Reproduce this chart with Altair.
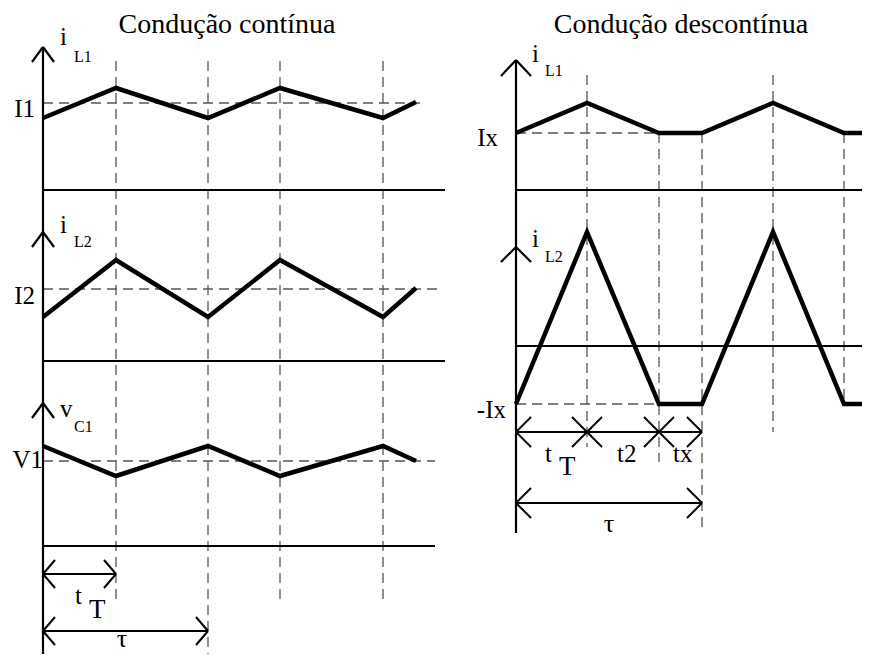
import altair as alt
import pandas as pd

# ---------------- values ----------------
# Condução contínua (left): instants measured from the vertical axis,
# levels measured above the zero line of each trace
cc_time = [0, 73, 165, 237, 340, 373]
cc_iL1 = [72, 102, 72, 102, 72, 88]
cc_iL2 = [44, 101, 44, 101, 44, 73]
cc_vC1 = [100, 70, 100, 70, 100, 85]
cc_level_names = ["I1", "I2", "V1"]
cc_levels = [87, 72, 85]
cc_tT, cc_tau = 73, 165

# Condução descontínua (right)
cd_time = [0, 71, 143, 186, 257, 328, 354]
cd_iL1 = [57, 87, 57, 57, 87, 57, 57]
cd_iL2 = [-58, 114, -58, -58, 114, -58, -58]
cd_Ix = 57
cd_tT, cd_t2, cd_tau = 71, 143, 186

# ---------------- layout ----------------
W, H = 854, 646


def P(y_img):
    return 662 - y_img


L_X0 = 43
L_BASE = [P(190), P(361), P(546)]
R_X0 = 516
R_BASE = [P(190), P(346)]

# waveforms
wave_rows = []
for name, vals in [("cc_iL1", cc_iL1), ("cc_iL2", cc_iL2), ("cc_vC1", cc_vC1)]:
    base = L_BASE[["cc_iL1", "cc_iL2", "cc_vC1"].index(name)]
    for i, (t, v) in enumerate(zip(cc_time, vals)):
        wave_rows.append({"s": name, "o": i, "x": L_X0 + t, "y": base + v})
for name, vals, base in [("cd_iL1", cd_iL1, R_BASE[0]), ("cd_iL2", cd_iL2, R_BASE[1])]:
    for i, (t, v) in enumerate(zip(cd_time, vals)):
        wave_rows.append({"s": name, "o": i, "x": R_X0 + t, "y": base + v})
waves = pd.DataFrame(wave_rows)

solid, thin, dashed = [], [], []


def seg(lst, x, y, x2, y2):
    lst.append({"x": x, "y": y, "x2": x2, "y2": y2})


# axes (vertical) and zero lines
seg(solid, L_X0, P(47), L_X0, P(662))
seg(solid, R_X0, P(60), R_X0, P(533))
for base, end in zip(L_BASE, [445, 445, 435]):
    seg(solid, L_X0, base, end, base)
for base in R_BASE:
    seg(solid, R_X0, base, 870, base)


def up_arrow(x, tip, dx, dy):
    seg(solid, x, tip, x - dx, tip - dy)
    seg(solid, x, tip, x + dx, tip - dy)


up_arrow(L_X0, P(47), 11, 15)
up_arrow(L_X0, P(232), 11, 15)
up_arrow(L_X0, P(403), 11, 15)
up_arrow(R_X0, P(60), 15, 16)
up_arrow(R_X0, P(247), 15, 15)


def head_left(x, y, d, h):
    seg(thin, x, y, x + d, y + h)
    seg(thin, x, y, x + d, y - h)


def head_right(x, y, d, h):
    seg(thin, x, y, x - d, y + h)
    seg(thin, x, y, x - d, y - h)


def cross(x, y, d):
    seg(thin, x - d, y + d, x + d, y - d)
    seg(thin, x - d, y - d, x + d, y + d)


# dimension arrows, left
for t, yi in [(cc_tT, 574), (cc_tau, 631)]:
    y = P(yi)
    seg(thin, L_X0, y, L_X0 + t, y)
    head_left(L_X0, y, 12, 14)
    head_right(L_X0 + t, y, 12, 14)

# dimension arrows, right
y = P(432)
seg(thin, R_X0, y, R_X0 + cd_tau, y)
head_left(R_X0, y, 15, 15)
cross(R_X0 + cd_tT, y, 15)
cross(R_X0 + cd_t2, y, 15)
head_right(R_X0 + cd_tau, y, 15, 15)
y = P(503)
seg(thin, R_X0, y, R_X0 + cd_tau, y)
head_left(R_X0, y, 15, 15)
head_right(R_X0 + cd_tau, y, 15, 15)

# dashed guides, left
for t in cc_time[1:5]:
    bottom = 660 if t == cc_tau else 603
    seg(dashed, L_X0 + t, P(61), L_X0 + t, P(bottom))
for base, lev, end in zip(L_BASE, cc_levels, [420, 440, 435]):
    seg(dashed, L_X0, base + lev, end, base + lev)

# dashed guides, right
for t, top, bottom in zip(cd_time[1:6], [75, 133, 133, 75, 133], [447, 462, 533, 432, 404]):
    seg(dashed, R_X0 + t, P(top), R_X0 + t, P(bottom))
seg(dashed, R_X0, R_BASE[0] + cd_Ix, R_X0 + cd_t2, R_BASE[0] + cd_Ix)
seg(dashed, R_X0, R_BASE[1] - cd_Ix - 1, R_X0 + cd_t2, R_BASE[1] - cd_Ix - 1)

# texts
left_txt = [
    ("i", 60, 45, 25), ("L1", 74, 62, 16),
    ("i", 60, 233, 25), ("L2", 74, 247, 16),
    ("v", 60, 417, 25), ("C1", 74, 432, 16),
    ("t", 75, 604, 25), ("T", 89, 618, 27),
    ("i", 532, 62, 25), ("L1", 545, 76, 16),
    ("i", 532, 247, 25), ("L2", 545, 262, 16),
    ("t", 545, 462, 25), ("T", 559, 475, 27),
    ("t2", 617, 462, 25), ("tx", 673, 462, 25),
]
right_txt = [
    ("I1", 35, 117, 25), ("I2", 35, 304, 25), ("V1", 43, 468, 25),
    ("Ix", 498, 146, 25), ("-Ix", 506, 418, 25),
]
center_txt = [
    ("Condução contínua", 227, 33, 28), ("Condução descontínua", 681, 33, 28),
    ("τ", 122, 647, 26), ("τ", 609, 532, 26),
]


def tdf(lst):
    return pd.DataFrame([{"t": a, "x": b, "y": P(c), "fs": d} for a, b, c, d in lst])


xs = alt.Scale(domain=[8, 8 + W], nice=False, zero=False)
ys = alt.Scale(domain=[8, 8 + H], nice=False, zero=False)
X = alt.X("x:Q", scale=xs, axis=None)
Y = alt.Y("y:Q", scale=ys, axis=None)


def rules(lst, **kw):
    return alt.Chart(pd.DataFrame(lst)).mark_rule(**kw).encode(
        x=X, y=Y, x2="x2:Q", y2="y2:Q")


def texts(lst, align):
    return alt.Chart(tdf(lst)).mark_text(
        align=align, baseline="alphabetic", font="Liberation Serif", color="black"
    ).encode(x=X, y=Y, text="t:N", size=alt.Size("fs:Q", scale=None))


layers = [
    rules(dashed, color="#555555", strokeWidth=1.3, strokeDash=[10, 6]),
    rules(solid, color="black", strokeWidth=2.2),
    rules(thin, color="black", strokeWidth=2.0),
    alt.Chart(waves).mark_line(color="black", strokeWidth=4.5, strokeJoin="miter").encode(
        x=X, y=Y, detail="s:N", order="o:Q"),
    texts(left_txt, "left"),
    texts(right_txt, "right"),
    texts(center_txt, "center"),
]

chart = alt.layer(*layers).properties(
    width=W, height=H, padding=0, autosize=alt.AutoSizeParams(type="none"),
    background="white",
).configure_view(stroke=None)

chart.save("out.html", embed_options={"renderer": "svg", "actions": False})
